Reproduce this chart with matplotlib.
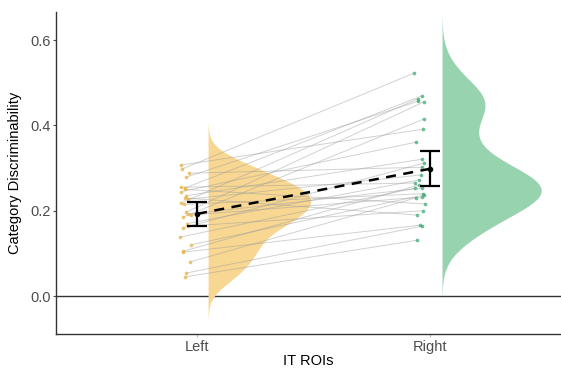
import numpy as np
import matplotlib
matplotlib.use("Agg")
import matplotlib.pyplot as plt

plt.rcParams['font.family'] = ['Liberation Sans', 'DejaVu Sans']

categories = ["Left", "Right"]
left_vals = [0.307, 0.298, 0.288, 0.279, 0.255, 0.253, 0.250, 0.245, 0.227,
             0.218, 0.215, 0.235, 0.230, 0.197, 0.192, 0.190, 0.185, 0.170,
             0.164, 0.160, 0.138, 0.120, 0.105, 0.103, 0.080, 0.054, 0.045]
right_vals = [0.391, 0.523, 0.302, 0.457, 0.265, 0.469, 0.216, 0.361, 0.284,
              0.462, 0.240, 0.321, 0.190, 0.455, 0.253, 0.232, 0.415, 0.272,
              0.200, 0.312, 0.253, 0.237, 0.260, 0.166, 0.230, 0.164, 0.131]
yticks = [0.0, 0.2, 0.4, 0.6]

L = np.array(left_vals)
R = np.array(right_vals)
n = len(L)

fig = plt.figure(figsize=(5.61, 3.68), dpi=100)
ax = fig.add_axes([0.0998, 0.0924, 0.9002, 0.8750])

# jitter (positions only)
rng = np.random.default_rng(3)
jl = 0.95 + rng.uniform(-0.025, 0.025, n)
jr = 1.955 + rng.uniform(-0.025, 0.025, n)

def nrd0(x):
    sd = np.std(x, ddof=1)
    iqr = np.subtract(*np.percentile(x, [75, 25]))
    return 0.9 * min(sd, iqr / 1.34) * len(x) ** (-0.2)

def half_violin(data, x0, maxw, color, adjust=1.0):
    bw = nrd0(data) * adjust
    ys = np.linspace(data.min() - 3 * bw, data.max() + 3 * bw, 400)
    dens = np.exp(-0.5 * ((ys[:, None] - data[None, :]) / bw) ** 2).sum(1)
    dens = dens / dens.max() * maxw
    ax.fill_betweenx(ys, x0, x0 + dens, color=color, lw=0, zorder=1)

half_violin(L, 1.047, 0.44, "#F8D792", adjust=0.95)
half_violin(R, 2.050, 0.425, "#98D3AF", adjust=0.9)

# connecting lines
for i in range(n):
    ax.plot([jl[i], jr[i]], [L[i], R[i]], color="#9a9a9a", lw=0.7, alpha=0.45, zorder=2)

ax.scatter(jl, L, s=7, color="#E8B447", alpha=0.75, lw=0, zorder=3)
ax.scatter(jr, R, s=7, color="#3DAA72", alpha=0.75, lw=0, zorder=3)

# means and 95% CI
means = [L.mean(), R.mean()]
cis = [1.96 * L.std(ddof=1) / np.sqrt(n), 1.96 * R.std(ddof=1) / np.sqrt(n)]
xs = [1.0, 2.0]
ax.plot(xs, means, color="black", lw=1.8, ls=(0, (4, 3)), zorder=4)
ax.errorbar(xs, means, yerr=cis, fmt="o", color="black", ms=3, lw=1.6,
            capsize=7, capthick=1.6, zorder=5)

ax.axhline(0, color="#333333", lw=1.0, zorder=0)

ax.set_xlim(0.395, 2.56)
ax.set_ylim(-0.089, 0.666)
ax.set_xticks([1, 2])
ax.set_xticklabels(categories)
ax.set_yticks(yticks)
ax.set_yticklabels([f"{v:.1f}" for v in yticks])
for s in ["top", "right"]:
    ax.spines[s].set_visible(False)
for s in ["left", "bottom"]:
    ax.spines[s].set_color("#333333")
    ax.spines[s].set_linewidth(1.0)
ax.tick_params(colors="#4D4D4D", labelsize=10.5, length=2.5, width=0.8, pad=1.5)
ax.tick_params(axis="x", colors="#BBBBBB", labelcolor="#4D4D4D")
ax.set_xlabel("IT ROIs", fontsize=10.5, color="black", labelpad=0)
ax.set_ylabel("Category Discriminability", fontsize=10.5, color="black", labelpad=6)

fig.savefig("out.png", dpi=100)
